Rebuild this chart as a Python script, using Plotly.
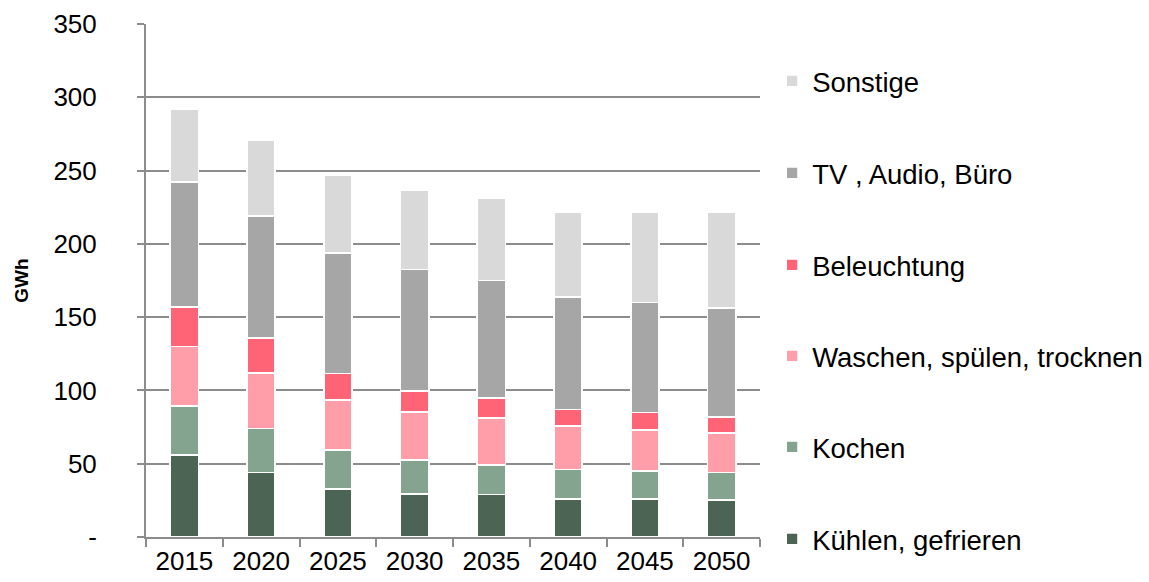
import plotly.graph_objects as go

years = ["2015", "2020", "2025", "2030", "2035", "2040", "2045", "2050"]

kuehlen = [56, 44, 32.5, 29.5, 29, 26, 26, 25]
kochen = [33.5, 30, 27, 23, 20, 20, 19, 19]
waschen = [40.5, 38, 34, 33, 32, 29.5, 28, 27]
beleuchtung = [27, 24, 18, 14, 14, 11.5, 12, 11]
tv = [85, 83, 82, 83, 80, 77, 75, 74]
sonstige = [50, 52, 53.5, 54, 56, 58, 62, 66]

series = [
    ("Kühlen, gefrieren", kuehlen, "#4b6454"),
    ("Kochen", kochen, "#84a48f"),
    ("Waschen, spülen, trocknen", waschen, "#ff9ea8"),
    ("Beleuchtung", beleuchtung, "#ff6476"),
    ("TV , Audio, Büro", tv, "#a6a6a6"),
    ("Sonstige", sonstige, "#d9d9d9"),
]

y_ticks = [0, 50, 100, 150, 200, 250, 300, 350]
y_ticktext = ["-", "50", "100", "150", "200", "250", "300", "350"]

# legend row centres in pixels (Kühlen at bottom up to Sonstige at top)
legend_centres = [539, 447, 356, 265, 173, 81]

W, H = 1149, 582
fig = go.Figure()
legend_layouts = {}
for i, (name, vals, col) in enumerate(series):
    lname = "legend" if i == 0 else f"legend{i + 1}"
    fig.add_trace(go.Bar(
        x=years, y=vals, name=name, legend=lname,
        marker=dict(color=col, line=dict(color="white", width=1.8)),
    ))
    legend_layouts[lname] = dict(
        xref="container", yref="container",
        x=0.672, y=1 - legend_centres[i] / H,
        xanchor="left", yanchor="middle",
        font=dict(size=27.5, color="black"),
        bgcolor="rgba(0,0,0,0)",
        itemclick=False, itemdoubleclick=False,
    )

font_family = "Liberation Sans, Arial, sans-serif"
fig.update_layout(
    barmode="stack",
    bargap=0.63,
    width=W, height=H,
    margin=dict(l=146, r=389, t=24, b=45),
    plot_bgcolor="white", paper_bgcolor="white",
    font=dict(family=font_family, size=26, color="black"),
    showlegend=True,
    xaxis=dict(
        showline=True, linecolor="#8c8c8c", linewidth=2,
        ticks="outside", ticklen=8, tickcolor="#8c8c8c", tickwidth=2,
        tickson="boundaries",
        showgrid=False,
        tickfont=dict(size=26),
        automargin=False,
    ),
    yaxis=dict(
        range=[0, 350],
        tickvals=y_ticks, ticktext=y_ticktext,
        showline=True, linecolor="#8c8c8c", linewidth=2,
        ticks="outside", ticklen=7, tickcolor="#8c8c8c", tickwidth=2,
        showgrid=True, gridcolor="#8c8c8c", gridwidth=2,
        zeroline=False,
        ticklabelstandoff=35,
        tickfont=dict(size=26),
        title=dict(text="<b>GWh</b>", font=dict(size=19), standoff=20),
        automargin=False,
    ),
    **legend_layouts,
)

fig.write_html("out.html", config={"displayModeBar": False},
               post_script="document.body.style.margin='0';")
